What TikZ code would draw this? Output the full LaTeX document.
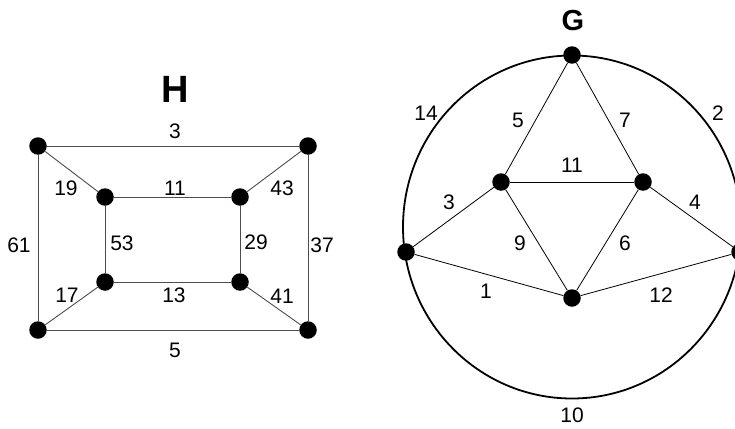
\documentclass[tikz,border=0pt]{standalone}
\usepackage{fontspec}
\setmainfont{Liberation Sans}
\begin{document}
\begin{tikzpicture}[x=1pt,y=-1pt,
  vtx/.style={circle,fill=black,inner sep=0pt,minimum size=17.5pt},
  hedge/.style={draw=black!70,line width=0.9pt},
  gedge/.style={draw=black,line width=0.8pt},
  lbl/.style={inner sep=0pt,font=\fontsize{21}{23}\selectfont},
  ttl/.style={inner sep=0pt,font=\bfseries}]
\useasboundingbox (0,0) rectangle (735,428);
\fill[white] (0,0) rectangle (735,428);
% ---- H ----
\node[vtx] (h1) at (38,146) {};
\node[vtx] (h2) at (308,146) {};
\node[vtx] (h3) at (38,330) {};
\node[vtx] (h4) at (308,330) {};
\node[vtx] (h5) at (105,197) {};
\node[vtx] (h6) at (240,197) {};
\node[vtx] (h7) at (105,282) {};
\node[vtx] (h8) at (240,282) {};
\draw[hedge] (h1) -- (h2);
\draw[hedge] (h3) -- (h4);
\draw[hedge] (h1) -- (h3);
\draw[hedge] (h2) -- (h4);
\draw[hedge] (h5) -- (h6);
\draw[hedge] (h7) -- (h8);
\draw[hedge] (h5) -- (h7);
\draw[hedge] (h6) -- (h8);
\draw[hedge] (h1) -- (h5);
\draw[hedge] (h2) -- (h6);
\draw[hedge] (h3) -- (h7);
\draw[hedge] (h4) -- (h8);
\node[ttl,font=\bfseries\fontsize{38}{40}\selectfont] (tH) at (175,89) {H};
\node[lbl] (l3) at (175,131) {3};
\node[lbl] (l19) at (66,188) {19};
\node[lbl] (l11) at (175,188) {11};
\node[lbl] (l43) at (282,188) {43};
\node[lbl] (l61) at (19,245) {61};
\node[lbl] (l53) at (122,243) {53};
\node[lbl] (l29) at (256,242) {29};
\node[lbl] (l37) at (322,245) {37};
\node[lbl] (l17) at (67,295) {17};
\node[lbl] (l13) at (174,295) {13};
\node[lbl] (l41) at (282,296) {41};
\node[lbl] (l5) at (175,350) {5};
% ---- G ----
\draw[black,line width=1.8pt] (572,227) ellipse [x radius=169, y radius=171.5];
\node[vtx] (g1) at (572,55) {};
\node[vtx] (g2) at (406,252) {};
\node[vtx] (g3) at (740,252) {};
\node[vtx] (g4) at (501,182) {};
\node[vtx] (g5) at (643,182) {};
\node[vtx] (g6) at (572,298) {};
\draw[gedge] (g1) -- (g4);
\draw[gedge] (g1) -- (g5);
\draw[gedge] (g4) -- (g5);
\draw[gedge] (g4) -- (g2);
\draw[gedge] (g5) -- (g3);
\draw[gedge] (g4) -- (g6);
\draw[gedge] (g5) -- (g6);
\draw[gedge] (g2) -- (g6);
\draw[gedge] (g3) -- (g6);
\node[ttl,font=\bfseries\fontsize{29}{31}\selectfont] (tG) at (573,21) {G};
\node[lbl] (m14) at (426,113) {14};
\node[lbl] (m2) at (718,113) {2};
\node[lbl] (m5) at (518,120) {5};
\node[lbl] (m7) at (625,120) {7};
\node[lbl] (m11) at (572,165) {11};
\node[lbl] (m3) at (449,202) {3};
\node[lbl] (m4) at (695,202) {4};
\node[lbl] (m9) at (520,243) {9};
\node[lbl] (m6) at (625,243) {6};
\node[lbl] (m1) at (486,291) {1};
\node[lbl] (m12) at (661,295) {12};
\node[lbl] (m10) at (572,415) {10};
\end{tikzpicture}
\end{document}
